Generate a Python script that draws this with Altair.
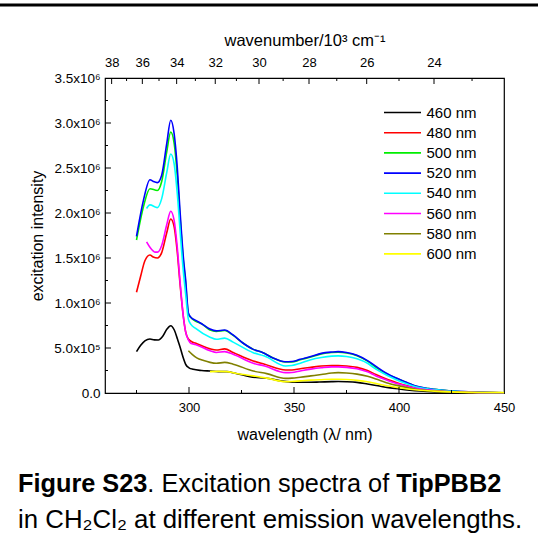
import altair as alt
import pandas as pd

FONT = "Liberation Sans"

series = ["460 nm", "480 nm", "500 nm", "520 nm", "540 nm", "560 nm", "580 nm", "600 nm"]
colors = ["#000000", "#ff0000", "#00ee00", "#0000ff", "#00ffff", "#ff00ff", "#808000", "#ffff00"]

# intensities in units of 10^6
wl_460 = [275, 277, 279, 281.4, 283.5, 285.4, 287.5, 289.5, 291.3, 293, 294.5, 295.7, 297, 298.6, 300, 302, 306, 310, 314, 318, 322, 329, 337, 346.5, 352, 358, 362, 368, 371, 375, 380, 385, 390, 395, 400, 405, 410, 418, 428, 440, 450]
in_460 = [0.459, 0.53, 0.58, 0.60, 0.59, 0.589, 0.63, 0.71, 0.748, 0.70, 0.60, 0.515, 0.41, 0.311, 0.28, 0.263, 0.25, 0.244, 0.238, 0.237, 0.22, 0.181, 0.163, 0.126, 0.12, 0.12, 0.122, 0.126, 0.127, 0.125, 0.118, 0.10, 0.08, 0.06, 0.045, 0.032, 0.022, 0.012, 0.006, 0.003, 0.001]

wl_480 = [275, 277, 279, 281.4, 283, 285, 287, 289.4, 291.3, 292.9, 294.4, 295.7, 297.3, 298.4, 299.7, 301.3, 303, 310, 313, 317, 321, 330.6, 336, 346, 349, 353, 358, 363, 368, 371, 375, 380, 385, 389, 394, 399, 404, 408, 414, 420, 428, 435, 450]
in_480 = [1.12, 1.30, 1.47, 1.533, 1.51, 1.50, 1.56, 1.78, 1.933, 1.85, 1.57, 1.22, 0.85, 0.68, 0.60, 0.57, 0.555, 0.49, 0.478, 0.49, 0.45, 0.356, 0.32, 0.256, 0.255, 0.27, 0.285, 0.30, 0.305, 0.305, 0.30, 0.285, 0.25, 0.205, 0.155, 0.115, 0.08, 0.056, 0.038, 0.024, 0.013, 0.008, 0.002]

wl_500 = [275, 278.3, 281.4, 284.9, 287, 289.4, 291.3, 292.9, 294.4, 295.7, 297.3, 298.4, 299.7, 301, 303, 306, 310, 313, 317, 321, 326, 330.6, 335, 340, 345.7, 349, 353, 358, 363, 368, 371, 375, 380, 385, 389, 394, 399, 404, 408, 414, 420, 428, 435, 450]
in_500 = [1.70, 2.07, 2.27, 2.25, 2.35, 2.68, 2.90, 2.78, 2.42, 1.97, 1.47, 1.22, 0.88, 0.835, 0.80, 0.77, 0.70, 0.685, 0.695, 0.64, 0.55, 0.485, 0.45, 0.39, 0.345, 0.345, 0.37, 0.40, 0.435, 0.45, 0.452, 0.445, 0.415, 0.355, 0.285, 0.215, 0.16, 0.112, 0.076, 0.049, 0.032, 0.017, 0.01, 0.003]

wl_520 = [275, 278.3, 281.4, 283, 284.9, 287, 289.4, 291.3, 292.9, 294.4, 295.7, 297.3, 298.4, 299.7, 301, 303, 306, 310, 313, 317, 321, 326, 330.6, 335, 340, 345.7, 349, 353, 358, 363, 368, 371, 375, 380, 385, 389.4, 394, 399, 404, 408, 414, 420, 428, 435, 442, 450]
in_520 = [1.74, 2.14, 2.37, 2.35, 2.337, 2.42, 2.77, 3.03, 2.885, 2.51, 2.03, 1.51, 1.26, 0.89, 0.84, 0.81, 0.77, 0.71, 0.69, 0.70, 0.645, 0.55, 0.485, 0.45, 0.39, 0.348, 0.35, 0.375, 0.405, 0.44, 0.455, 0.46, 0.45, 0.42, 0.36, 0.29, 0.22, 0.163, 0.115, 0.078, 0.05, 0.033, 0.018, 0.01, 0.005, 0.003]

wl_540 = [279.8, 281.4, 284.9, 287, 289.4, 291.3, 292.9, 294.4, 295.7, 297.3, 298.4, 299.7, 301, 303, 310, 313, 317, 321, 330.6, 336, 346, 349, 353, 358, 363, 368, 371, 375, 380, 385, 389, 394, 399, 404, 408, 414, 420, 428, 435, 450]
in_540 = [2.05, 2.09, 2.06, 2.16, 2.45, 2.655, 2.55, 2.22, 1.82, 1.35, 1.10, 0.82, 0.76, 0.72, 0.62, 0.597, 0.61, 0.565, 0.448, 0.41, 0.30, 0.305, 0.33, 0.37, 0.395, 0.41, 0.412, 0.405, 0.38, 0.33, 0.265, 0.20, 0.145, 0.10, 0.07, 0.045, 0.03, 0.016, 0.009, 0.003]

wl_560 = [279.8, 281.4, 284, 285, 287, 289.4, 291.3, 292.9, 294.4, 295.7, 297.3, 298.4, 299.7, 301, 303, 310, 313, 317, 321, 330.6, 336, 346, 349, 353, 358, 363, 368, 371, 375, 380, 385, 389, 394, 399, 404, 408, 414, 420, 428, 435, 450]
in_560 = [1.68, 1.62, 1.565, 1.565, 1.64, 1.87, 2.02, 1.92, 1.62, 1.25, 0.85, 0.68, 0.59, 0.55, 0.54, 0.47, 0.45, 0.46, 0.43, 0.33, 0.30, 0.226, 0.228, 0.245, 0.265, 0.28, 0.29, 0.29, 0.285, 0.27, 0.235, 0.19, 0.145, 0.105, 0.075, 0.052, 0.035, 0.022, 0.012, 0.007, 0.002]

wl_580 = [299.7, 301.5, 303.7, 307, 310, 313, 317, 321, 330.6, 337, 346, 349, 353, 358, 363, 368, 371, 375, 380, 385, 389, 394, 399, 404, 408, 414, 420, 428, 435, 450]
in_580 = [0.47, 0.43, 0.39, 0.36, 0.34, 0.33, 0.34, 0.32, 0.244, 0.215, 0.163, 0.165, 0.175, 0.19, 0.205, 0.222, 0.226, 0.222, 0.21, 0.185, 0.155, 0.115, 0.085, 0.06, 0.042, 0.028, 0.018, 0.01, 0.006, 0.002]

wl_600 = [310, 314, 318, 322, 330.6, 337, 346, 349, 353, 358, 363, 368, 371, 375, 380, 385, 390, 395, 400, 405, 410, 418, 428, 440, 450]
in_600 = [0.237, 0.24, 0.237, 0.22, 0.19, 0.165, 0.126, 0.128, 0.135, 0.143, 0.148, 0.152, 0.152, 0.15, 0.14, 0.125, 0.10, 0.078, 0.058, 0.042, 0.03, 0.018, 0.01, 0.006, 0.005]

x_ticks = [300, 350, 400, 450]
x_minor = [275, 325, 375, 425]
y_ticks = [0, 0.5, 1.0, 1.5, 2.0, 2.5, 3.0, 3.5]
y_minor = [0.25, 0.75, 1.25, 1.75, 2.25, 2.75, 3.25]
wn_ticks = [38, 36, 34, 32, 30, 28, 26, 24]
wn_minor = [37, 35, 33, 31, 29, 27, 25, 23]

cap1 = [("Figure S23", True), (". Excitation spectra of ", False), ("TipPBB2", True)]
cap2 = "in CH\u2082Cl\u2082 at different emission wavelengths."

W, H = 399, 315
PAD = {"left": 105, "top": 78, "right": 34, "bottom": 153}

rows = []
for name, wl, iv in zip(series,
                        [wl_460, wl_480, wl_500, wl_520, wl_540, wl_560, wl_580, wl_600],
                        [in_460, in_480, in_500, in_520, in_540, in_560, in_580, in_600]):
    for a, b in zip(wl, iv):
        rows.append({"series": name, "lam": a, "I": b})
df = pd.DataFrame(rows)

xscale = alt.Scale(domain=[260, 450], nice=False, zero=False)
yscale = alt.Scale(domain=[0, 3.5], nice=False, zero=False)

xaxis = alt.Axis(values=x_ticks, ticks=False, tickSize=0, domain=False, grid=False,
                 labelFlush=False, labelPadding=8, labelFontSize=13, labelFont=FONT,
                 labelColor="black", title="wavelength (\u03bb/ nm)", titleFont=FONT,
                 titleFontSize=16, titleFontWeight="normal", titleColor="black", titlePadding=12)
yaxis = alt.Axis(values=y_ticks, ticks=False, tickSize=0, domain=False, grid=False,
                 labelFlush=False, labelPadding=5, labelFontSize=13.5, labelFont=FONT,
                 labelColor="black",
                 labelExpr="datum.value == 0 ? '0.0' : (datum.value < 1 ? format(datum.value*10, '.1f') + 'x10\u2075' : format(datum.value, '.1f') + 'x10\u2076')",
                 title="excitation intensity", titleFont=FONT, titleFontSize=16,
                 titleFontWeight="normal", titleColor="black", titlePadding=8)

lines = alt.Chart(df).mark_line(strokeWidth=1.6, interpolate="monotone").encode(
    x=alt.X("lam:Q", scale=xscale, axis=xaxis, title="wavelength (\u03bb/ nm)"),
    y=alt.Y("I:Q", scale=yscale, axis=yaxis, title="excitation intensity"),
    color=alt.Color("series:N", sort=series,
                    scale=alt.Scale(domain=series, range=colors),
                    legend=alt.Legend(orient="none", legendX=290, legendY=27, title=None,
                                      symbolType="M-3.7,0H3.7", symbolSize=100,
                                      symbolStrokeWidth=1.6, labelFontSize=15,
                                      labelFont=FONT, labelColor="black", labelOffset=16.5,
                                      rowPadding=4.2, padding=0)),
    detail="series:N",
)

def tick_df(vals):
    return pd.DataFrame({"lam": vals})

def ytick_df(vals):
    return pd.DataFrame({"I": vals})

ymaj = alt.Chart(ytick_df(y_ticks[1:-1])).mark_rule(color="black", strokeWidth=1).encode(
    y=alt.Y("I:Q", scale=yscale, axis=yaxis, title="excitation intensity"),
    x=alt.value(0), x2=alt.value(6))
ymin = alt.Chart(ytick_df(y_minor)).mark_rule(color="black", strokeWidth=1).encode(
    y=alt.Y("I:Q", scale=yscale, axis=yaxis, title="excitation intensity"),
    x=alt.value(0), x2=alt.value(3))
xmaj = alt.Chart(tick_df(x_ticks[:-1])).mark_rule(color="black", strokeWidth=1).encode(
    x=alt.X("lam:Q", scale=xscale, axis=xaxis, title="wavelength (\u03bb/ nm)"),
    y=alt.value(H), y2=alt.value(H - 6))
xmin = alt.Chart(tick_df(x_minor)).mark_rule(color="black", strokeWidth=1).encode(
    x=alt.X("lam:Q", scale=xscale, axis=xaxis, title="wavelength (\u03bb/ nm)"),
    y=alt.value(H), y2=alt.value(H - 3))
tmin = alt.Chart(pd.DataFrame({"k": wn_minor})).transform_calculate(
    lam="10000 / datum.k").mark_rule(color="black", strokeWidth=1).encode(
    x=alt.X("lam:Q", scale=xscale, axis=xaxis, title="wavelength (\u03bb/ nm)"),
    y=alt.value(0), y2=alt.value(3))

# caption
REG = {" ": .278, ".": .278, "E": .667, "x": .5, "c": .5, "i": .222, "t": .278, "a": .556,
       "o": .556, "n": .556, "s": .5, "p": .556, "e": .556, "r": .333, "f": .278}
BOLD = {"F": .611, "i": .278, "g": .611, "u": .611, "r": .389, "e": .556, " ": .278,
        "S": .667, "2": .556, "3": .556, "T": .611, "p": .611, "P": .667, "B": .722}
CAP_FS = 25.3
cx = -87
cap_layers = []
for txt, bold in cap1:
    cap_layers.append(alt.Chart(pd.DataFrame({"t": [txt]})).mark_text(
        align="left", baseline="alphabetic", font=FONT, fontSize=CAP_FS,
        fontWeight="bold" if bold else "normal", color="black").encode(
        text="t:N", x=alt.value(cx), y=alt.value(414)))
    tbl = BOLD if bold else REG
    cx += sum(tbl.get(ch, .556) for ch in txt) * CAP_FS
cap_layers.append(alt.Chart(pd.DataFrame({"t": [cap2]})).mark_text(
    align="left", baseline="alphabetic", font=FONT, fontSize=25.8, color="black").encode(
    text="t:N", x=alt.value(-87), y=alt.value(450)))

topbar = alt.Chart(pd.DataFrame({"a": [0]})).mark_rule(color="black", strokeWidth=3).encode(
    x=alt.value(-105), x2=alt.value(433), y=alt.value(-73))

inner = alt.layer(lines, ymaj, ymin, xmaj, xmin, tmin, topbar, *cap_layers)

topaxis = alt.Axis(orient="top", values=[10000 / k for k in wn_ticks], ticks=False, tickSize=0,
                   domain=False, grid=False, labelFlush=False, labelPadding=9, labelFontSize=13,
                   labelFont=FONT, labelColor="black",
                   labelExpr="format(10000 / datum.value, '.0f')",
                   title="wavenumber/10\u00b3 cm\u207b\u00b9", titleFont=FONT, titleFontSize=16.5,
                   titleFontWeight="normal", titleColor="black", titlePadding=8)
tmaj = alt.Chart(pd.DataFrame({"k": wn_ticks})).transform_calculate(
    lam="10000 / datum.k").mark_rule(color="black", strokeWidth=1).encode(
    x=alt.X("lam:Q", scale=xscale, axis=topaxis), y=alt.value(0), y2=alt.value(6))

chart = alt.layer(inner, tmaj).resolve_axis(x="independent").properties(
    width=W, height=H, padding=PAD, autosize=alt.AutoSizeParams(type="none"),
    background="white",
).configure_view(stroke="black", strokeWidth=1.2)

chart.save("out.html", embed_options={"renderer": "svg", "actions": False})
